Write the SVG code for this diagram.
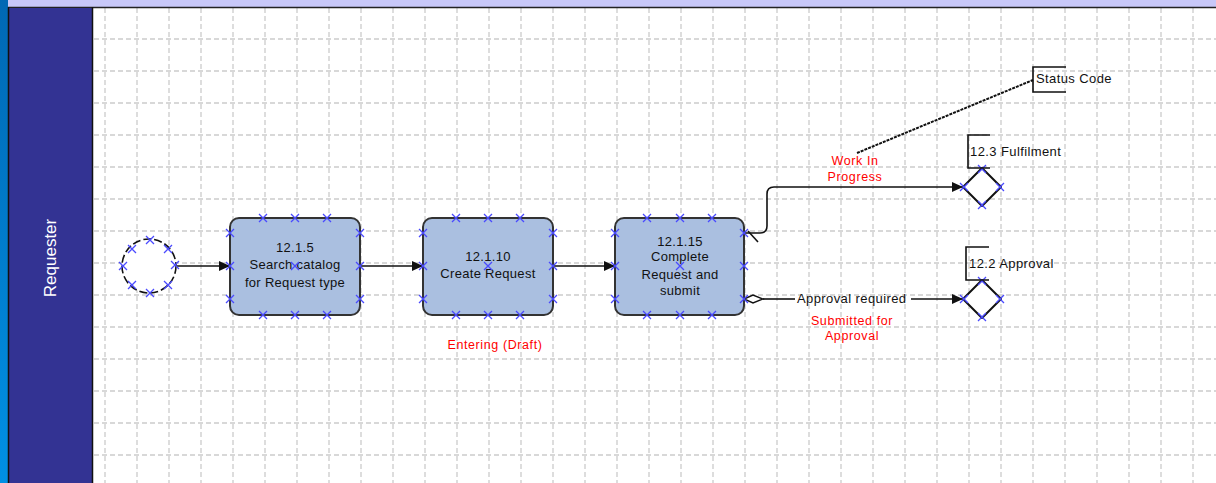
<svg xmlns="http://www.w3.org/2000/svg" xmlns:xlink="http://www.w3.org/1999/xlink" width="1216" height="483" viewBox="0 0 1216 483">
<style>
.grid line{stroke:#cbcbcb;stroke-width:1.3;stroke-dasharray:5,3}
.task{fill:#aabfe0;stroke:#333;stroke-width:2}
.tt{font-family:"Liberation Sans",Arial,sans-serif;font-size:13px;letter-spacing:0.3px;fill:#111;text-anchor:middle}
.red{font-family:"Liberation Sans",Arial,sans-serif;font-size:12.5px;letter-spacing:0.6px;fill:#ff0000;text-anchor:middle}
.lab{font-family:"Liberation Sans",Arial,sans-serif;font-size:13px;letter-spacing:0.4px;fill:#111}
.flow{fill:none;stroke:#111;stroke-width:1.6}
.br{fill:none;stroke:#111;stroke-width:1.6}
.xm{stroke:#4a4aff;stroke-width:1.3;fill:none}
.gw{fill:#fff;stroke:#111;stroke-width:2;stroke-linejoin:round}
</style>
<defs>
<linearGradient id="lb" x1="0" y1="0" x2="0" y2="1"><stop offset="0" stop-color="#0068b4"/><stop offset="1" stop-color="#0090e4"/></linearGradient>
<marker id="ah" markerWidth="12" markerHeight="10" refX="10" refY="5" orient="auto" markerUnits="userSpaceOnUse"><path d="M0,0L11,5L0,10z" fill="#111"/></marker>
<path id="x" class="xm" d="M-4,-4L4,4M-4,4L4,-4"/>
</defs>
<rect x="0" y="0" width="1216" height="483" fill="#fff"/>
<g class="grid">
<line x1="105" y1="8" x2="105" y2="483"/><line x1="137" y1="8" x2="137" y2="483"/><line x1="169" y1="8" x2="169" y2="483"/><line x1="201" y1="8" x2="201" y2="483"/><line x1="233" y1="8" x2="233" y2="483"/><line x1="265" y1="8" x2="265" y2="483"/><line x1="297" y1="8" x2="297" y2="483"/><line x1="329" y1="8" x2="329" y2="483"/><line x1="361" y1="8" x2="361" y2="483"/><line x1="393" y1="8" x2="393" y2="483"/><line x1="425" y1="8" x2="425" y2="483"/><line x1="457" y1="8" x2="457" y2="483"/><line x1="489" y1="8" x2="489" y2="483"/><line x1="521" y1="8" x2="521" y2="483"/><line x1="553" y1="8" x2="553" y2="483"/><line x1="585" y1="8" x2="585" y2="483"/><line x1="617" y1="8" x2="617" y2="483"/><line x1="649" y1="8" x2="649" y2="483"/><line x1="681" y1="8" x2="681" y2="483"/><line x1="713" y1="8" x2="713" y2="483"/><line x1="745" y1="8" x2="745" y2="483"/><line x1="777" y1="8" x2="777" y2="483"/><line x1="809" y1="8" x2="809" y2="483"/><line x1="841" y1="8" x2="841" y2="483"/><line x1="873" y1="8" x2="873" y2="483"/><line x1="905" y1="8" x2="905" y2="483"/><line x1="937" y1="8" x2="937" y2="483"/><line x1="969" y1="8" x2="969" y2="483"/><line x1="1001" y1="8" x2="1001" y2="483"/><line x1="1033" y1="8" x2="1033" y2="483"/><line x1="1065" y1="8" x2="1065" y2="483"/><line x1="1097" y1="8" x2="1097" y2="483"/><line x1="1129" y1="8" x2="1129" y2="483"/><line x1="1161" y1="8" x2="1161" y2="483"/><line x1="1193" y1="8" x2="1193" y2="483"/>
<line x1="94" y1="39" x2="1216" y2="39"/><line x1="94" y1="71" x2="1216" y2="71"/><line x1="94" y1="103" x2="1216" y2="103"/><line x1="94" y1="135" x2="1216" y2="135"/><line x1="94" y1="167" x2="1216" y2="167"/><line x1="94" y1="199" x2="1216" y2="199"/><line x1="94" y1="231" x2="1216" y2="231"/><line x1="94" y1="263" x2="1216" y2="263"/><line x1="94" y1="295" x2="1216" y2="295"/><line x1="94" y1="327" x2="1216" y2="327"/><line x1="94" y1="359" x2="1216" y2="359"/><line x1="94" y1="391" x2="1216" y2="391"/><line x1="94" y1="423" x2="1216" y2="423"/><line x1="94" y1="455" x2="1216" y2="455"/>
</g>
<g id="lane">
<rect x="0" y="0" width="1216" height="7" fill="#c8c8f8"/>
<line x1="0" y1="7.5" x2="1216" y2="7.5" stroke="#222" stroke-width="1.5"/>
<rect x="0" y="0" width="8" height="483" fill="url(#lb)"/>
<rect x="9" y="8" width="83" height="475" fill="#333393"/>
<line x1="8.5" y1="7" x2="8.5" y2="483" stroke="#111" stroke-width="1.5"/>
<line x1="92.5" y1="7" x2="92.5" y2="483" stroke="#111" stroke-width="1.5"/>
<text x="50" y="258" transform="rotate(-90 50 258)" text-anchor="middle" dominant-baseline="central" font-family="'Liberation Sans',Arial,sans-serif" font-size="17" fill="#fff">Requester</text>
</g>
<g id="connectors">
<line class="flow" x1="177" y1="266" x2="229" y2="266" marker-end="url(#ah)"/>
<line class="flow" x1="361" y1="266" x2="422" y2="266" marker-end="url(#ah)"/>
<line class="flow" x1="553" y1="266" x2="614" y2="266" marker-end="url(#ah)"/>
<path class="flow" d="M745,233 H760 Q767,233 767,226 V194 Q767,187 774,187 H962" marker-end="url(#ah)"/>
<line class="flow" x1="748" y1="231" x2="758" y2="242"/>
<path d="M744,299 L753,295 L763,299 L753,303 z" fill="#fff" stroke="#111" stroke-width="1.4"/>
<line class="flow" x1="763" y1="299" x2="795" y2="299"/>
<line class="flow" x1="911" y1="299" x2="962" y2="299" marker-end="url(#ah)"/>
<line x1="857" y1="153" x2="1033" y2="80" stroke="#111" stroke-width="2" stroke-dasharray="3,1"/>
<text class="lab" x="797" y="303">Approval required</text>
<text class="red"><tspan x="855" y="165">Work In</tspan><tspan x="855" y="181">Progress</tspan></text>
<text class="red"><tspan x="852" y="325">Submitted for</tspan><tspan x="852" y="340">Approval</tspan></text>
</g>
<g id="start">
<circle cx="149" cy="266" r="27" fill="#fff" stroke="#111" stroke-width="1.6" stroke-dasharray="8,3"/>
<use href="#x" x="150" y="240"/><use href="#x" x="132" y="249"/><use href="#x" x="168" y="249"/><use href="#x" x="123" y="266"/><use href="#x" x="175" y="265"/><use href="#x" x="132" y="285"/><use href="#x" x="150" y="293"/><use href="#x" x="168" y="285"/>
</g>
<g id="task1">
<rect class="task" x="230" y="218" width="130" height="97" rx="9"/>
<text class="tt"><tspan x="295" y="252">12.1.5</tspan><tspan x="295" y="269">Search catalog</tspan><tspan x="295" y="287">for Request type</tspan></text>
<use href="#x" x="263" y="218"/><use href="#x" x="295" y="218"/><use href="#x" x="327" y="218"/><use href="#x" x="263" y="315"/><use href="#x" x="295" y="315"/><use href="#x" x="327" y="315"/><use href="#x" x="230" y="233"/><use href="#x" x="230" y="266"/><use href="#x" x="230" y="299"/><use href="#x" x="360" y="233"/><use href="#x" x="360" y="266"/><use href="#x" x="360" y="299"/><use href="#x" x="295" y="266"/>
</g>
<g id="task2">
<rect class="task" x="423" y="218" width="130" height="97" rx="9"/>
<text class="tt"><tspan x="488" y="261">12.1.10</tspan><tspan x="488" y="278">Create Request</tspan></text>
<use href="#x" x="456" y="218"/><use href="#x" x="488" y="218"/><use href="#x" x="520" y="218"/><use href="#x" x="456" y="315"/><use href="#x" x="488" y="315"/><use href="#x" x="520" y="315"/><use href="#x" x="423" y="233"/><use href="#x" x="423" y="266"/><use href="#x" x="423" y="299"/><use href="#x" x="553" y="233"/><use href="#x" x="553" y="266"/><use href="#x" x="553" y="299"/><use href="#x" x="488" y="266"/>
</g>
<g id="task3">
<rect class="task" x="615" y="218" width="129" height="97" rx="9"/>
<text class="tt"><tspan x="680" y="246">12.1.15</tspan><tspan x="680" y="261">Complete</tspan><tspan x="680" y="279">Request and</tspan><tspan x="680" y="295">submit</tspan></text>
<use href="#x" x="647" y="218"/><use href="#x" x="680" y="218"/><use href="#x" x="712" y="218"/><use href="#x" x="647" y="315"/><use href="#x" x="680" y="315"/><use href="#x" x="712" y="315"/><use href="#x" x="615" y="233"/><use href="#x" x="615" y="266"/><use href="#x" x="615" y="299"/><use href="#x" x="744" y="233"/><use href="#x" x="744" y="266"/><use href="#x" x="744" y="299"/><use href="#x" x="680" y="266"/>
</g>
<g id="entering">
<text class="red" x="495" y="349">Entering (Draft)</text>
</g>
<g id="gw-fulfilment">
<path class="gw" d="M982,168 L1001,187 L982,206 L963,187 z"/>
<use href="#x" x="982" y="169"/><use href="#x" x="1000" y="187"/><use href="#x" x="982" y="205"/><use href="#x" x="964" y="187"/>
</g>
<g id="gw-approval">
<path class="gw" d="M982,280 L1001,299 L982,318 L963,299 z"/>
<use href="#x" x="982" y="281"/><use href="#x" x="1000" y="299"/><use href="#x" x="982" y="317"/><use href="#x" x="964" y="299"/>
</g>
<g id="ann-status">
<path class="br" d="M1066,67 H1033 V92 H1066"/>
<text class="lab" x="1036" y="83">Status Code</text>
</g>
<g id="ann-fulfilment">
<path class="br" d="M990,135 H968 V168 H990"/>
<text class="lab" x="970" y="156">12.3 Fulfilment</text>
</g>
<g id="ann-approval">
<path class="br" d="M989,247 H966 V280 H989"/>
<text class="lab" x="969" y="268">12.2 Approval</text>
</g>
</svg>
